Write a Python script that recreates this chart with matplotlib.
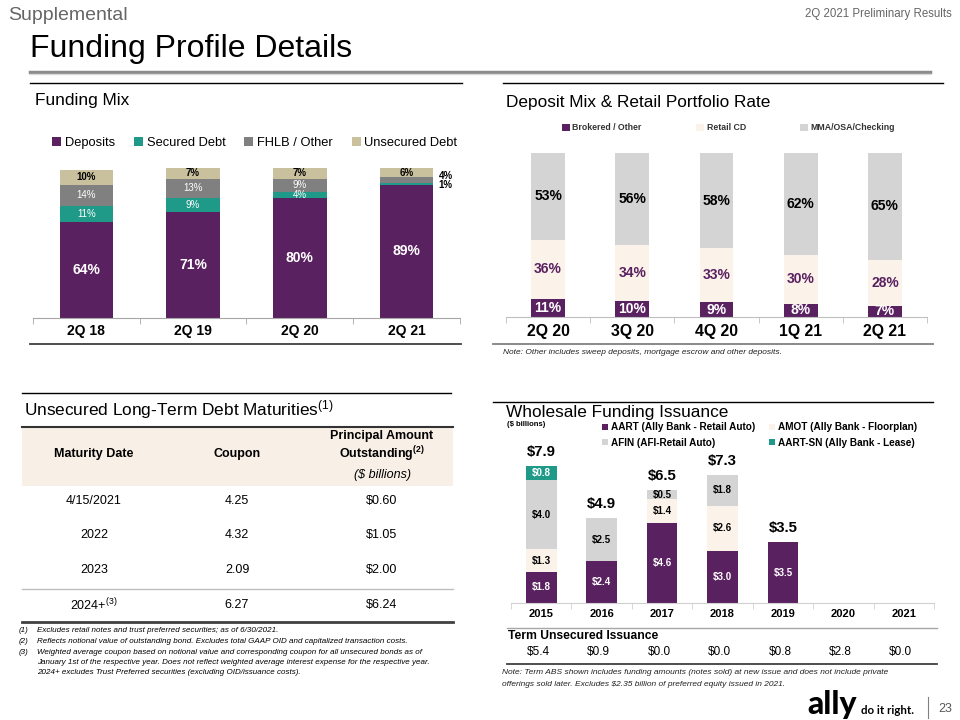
import matplotlib
matplotlib.use("Agg")
import matplotlib.pyplot as plt
from matplotlib.patches import Rectangle
from matplotlib.transforms import blended_transform_factory

plt.rcParams["font.family"] = ["Liberation Sans", "DejaVu Sans"]
plt.rcParams["mathtext.fontset"] = "custom"
plt.rcParams["mathtext.rm"] = "Liberation Sans"
plt.rcParams["mathtext.it"] = "Liberation Sans:italic"
plt.rcParams["mathtext.bf"] = "Liberation Sans:bold"

# funding mix (% of total funding)
mix_quarters = ["2Q 18", "2Q 19", "2Q 20", "2Q 21"]
mix_deposits = [64, 71, 80, 89]
mix_secured = [11, 9, 4, 1]
mix_fhlb = [14, 13, 9, 4]
mix_unsecured = [10, 7, 7, 6]

# deposit mix (% of deposits)
dep_quarters = ["2Q 20", "3Q 20", "4Q 20", "1Q 21", "2Q 21"]
dep_brokered = [11, 10, 9, 8, 7]
dep_retail_cd = [36, 34, 33, 30, 28]
dep_mma = [53, 56, 58, 62, 65]

# unsecured long-term debt maturities
debt_maturity = ["4/15/2021", "2022", "2023", "2024+$^{(3)}$"]
debt_coupon = ["4.25", "4.32", "2.09", "6.27"]
debt_principal = [0.60, 1.05, 2.00, 6.24]

# wholesale funding issuance ($ billions)
abs_years = ["2015", "2016", "2017", "2018", "2019", "2020", "2021"]
abs_aart = [1.8, 2.4, 4.6, 3.0, 3.5, 0, 0]
abs_amot = [1.3, 0, 1.4, 2.6, 0, 0, 0]
abs_afin = [4.0, 2.5, 0.5, 1.8, 0, 0, 0]
abs_aart_sn = [0.8, 0, 0, 0, 0, 0, 0]
abs_totals = [7.9, 4.9, 6.5, 7.3, 3.5, None, None]
term_unsecured = [5.4, 0.9, 0.0, 0.0, 0.8, 2.8, 0.0]

PURPLE = "#5A2160"
TEAL = "#1F9A89"
GRAY = "#808080"
TAN = "#C9C09D"
CREAM = "#FBF3EA"
LIGHT = "#D4D4D4"

W, H = 960, 720


def rect(x0, y0, x1, y1):
    return [x0 / W, 1 - y1 / H, (x1 - x0) / W, (y1 - y0) / H]


def fpos(x, y):
    return (x / W, 1 - y / H)


def style_cat_axis(ax, n, fontsize, pad, spine_color="#BFBFBF"):
    for s in ["top", "right", "left"]:
        ax.spines[s].set_visible(False)
    ax.spines["bottom"].set_color(spine_color)
    ax.set_yticks([])
    ax.set_xlim(-0.5, n - 0.5)
    ax.set_xticks(range(n))
    ax.set_xticks([i - 0.5 for i in range(n + 1)], minor=True)
    ax.tick_params(axis="x", which="major", length=0, pad=pad)
    ax.tick_params(axis="x", which="minor", length=4, color=spine_color)
    for lab in ax.get_xticklabels():
        lab.set_fontweight("bold")
        lab.set_fontsize(fontsize)


fig = plt.figure(figsize=(9.6, 7.2), dpi=100)

# page canvas in pixel coordinates
bg = fig.add_axes([0, 0, 1, 1], zorder=0)
bg.set_xlim(0, W)
bg.set_ylim(H, 0)
bg.axis("off")

bg.text(8, 15, "Supplemental", fontsize=14, color="#666666", va="center")
bg.text(952, 14, "2Q 2021 Preliminary Results", fontsize=8.3, color="#666666",
        va="center", ha="right")
bg.text(30, 49, "Funding Profile Details", fontsize=23, va="center")
bg.plot([30, 930], [72, 72], color="#8C8C8C", lw=2.5)
bg.plot([30, 930], [74, 74], color="#D9D9D9", lw=1)

bg.plot([30, 462], [83, 83], color="black", lw=1)
bg.plot([503, 943], [83, 83], color="black", lw=1)
bg.text(35, 101, "Funding Mix", fontsize=12.4, va="center")
bg.text(506, 103, "Deposit Mix & Retail Portfolio Rate", fontsize=12.4, va="center")
bg.plot([30, 461], [344, 344], color="#404040", lw=1.3)
bg.plot([493, 933], [344, 344], color="#808080", lw=1.3)
bg.text(503, 353, "Note: Other includes sweep deposits, mortgage escrow and other deposits.",
        fontsize=6, style="italic", va="center", color="#222222")

# ---- Funding Mix ----
ax1 = fig.add_axes(rect(33, 168, 460, 318), zorder=1)
ax1.set_facecolor("none")
x1 = list(range(len(mix_quarters)))
series1 = [("Deposits", mix_deposits, PURPLE, "white", 10),
           ("Secured Debt", mix_secured, TEAL, "white", 7),
           ("FHLB / Other", mix_fhlb, GRAY, "white", 7),
           ("Unsecured Debt", mix_unsecured, TAN, "black", 7)]
bottom = [0] * len(x1)
for k, (name, vals, col, tcol, fs) in enumerate(series1):
    ax1.bar(x1, vals, 0.5, bottom=bottom, color=col, label=name)
    for i, v in enumerate(vals):
        yc = bottom[i] + v / 2
        if i == 3 and k in (1, 2):
            dy = 3 if k == 2 else -1
            ax1.annotate(f"{v}%", (i + 0.25, yc), xytext=(4, dy), textcoords="offset points",
                         ha="left", va="center", fontsize=7, fontweight="bold")
        else:
            w = "bold" if k in (0, 3) else "normal"
            ax1.text(i, yc, f"{v}%", ha="center", va="center", color=tcol,
                     fontsize=fs, fontweight=w)
    bottom = [b + v for b, v in zip(bottom, vals)]
ax1.set_ylim(0, 100)
ax1.set_xticks(x1)
ax1.set_xticklabels(mix_quarters)
style_cat_axis(ax1, len(x1), 10, 4.5, spine_color="#A6A6A6")
ax1.legend(loc="center left", bbox_to_anchor=fpos(52, 143), bbox_transform=fig.transFigure,
           ncol=4, frameon=False, fontsize=9.3, handlelength=0.7, handleheight=0.7,
           handletextpad=0.3, columnspacing=1.45, borderpad=0, borderaxespad=0)

# ---- Deposit Mix ----
ax2 = fig.add_axes(rect(506, 153, 927, 317), zorder=1)
ax2.set_facecolor("none")
x2 = list(range(len(dep_quarters)))
series2 = [("Brokered / Other", dep_brokered, PURPLE, "white"),
           ("Retail CD", dep_retail_cd, CREAM, PURPLE),
           ("MMA/OSA/Checking", dep_mma, LIGHT, "black")]
bottom = [0] * len(x2)
for name, vals, col, tcol in series2:
    ax2.bar(x2, vals, 0.4, bottom=bottom, color=col, label=name)
    for i, v in enumerate(vals):
        ax2.text(i, bottom[i] + v / 2, f"{v}%", ha="center", va="center", color=tcol,
                 fontsize=10, fontweight="bold")
    bottom = [b + v for b, v in zip(bottom, vals)]
ax2.set_ylim(0, 100)
ax2.set_xticks(x2)
ax2.set_xticklabels(dep_quarters)
style_cat_axis(ax2, len(x2), 11.4, 5.2)
leg2 = ax2.legend(loc="center left", bbox_to_anchor=fpos(562, 128),
                  bbox_transform=fig.transFigure, ncol=3, frameon=False, fontsize=6.3,
                  handlelength=0.9, handleheight=0.9, handletextpad=0.3, columnspacing=6.2,
                  borderpad=0, borderaxespad=0)
for t in leg2.get_texts():
    t.set_fontweight("bold")
    t.set_color("#333333")

# ---- Unsecured Long-Term Debt Maturities table ----
bg.plot([22, 451], [393, 393], color="black", lw=1)
bg.text(24, 410, "Unsecured Long-Term Debt Maturities$^{(1)}$", fontsize=12.4, va="center")
bg.add_patch(Rectangle((22, 427), 431, 59, color="#F8EFE6", lw=0))
bg.plot([22, 453], [427, 427], color="#333333", lw=1.5)
cols = [94, 237, 382]
bg.text(cols[0], 454, "Maturity Date", fontsize=9, fontweight="bold", ha="center", va="center")
bg.text(cols[1], 454, "Coupon", fontsize=9, fontweight="bold", ha="center", va="center")
bg.text(cols[2], 436, "Principal Amount", fontsize=9, fontweight="bold", ha="center", va="center")
bg.text(cols[2], 454, r"Outstanding$^{\mathbf{(2)}}$", fontsize=9, fontweight="bold",
        ha="center", va="center")
bg.text(cols[2], 475, r"(\$ billions)", fontsize=9, style="italic", ha="center", va="center")
row_y = [501, 535, 570, 605]
for y, d, c, p in zip(row_y, debt_maturity, debt_coupon, debt_principal):
    bg.text(cols[0], y, d, fontsize=9, ha="center", va="center")
    bg.text(cols[1], y, c, fontsize=9, ha="center", va="center")
    bg.text(cols[2], y, f"${p:.2f}", fontsize=9, ha="center", va="center")
bg.plot([22, 453], [589, 589], color="#BFBFBF", lw=1)
bg.plot([22, 453], [622, 622], color="#404040", lw=2)

notes = [("(1)", "Excludes retail notes and trust preferred securities; as of 6/30/2021."),
         ("(2)", "Reflects notional value of outstanding bond. Excludes total GAAP OID and capitalized transaction costs."),
         ("(3)", "Weighted average coupon based on notional value and corresponding coupon for all unsecured bonds as of"),
         ("", "January 1st of the respective year. Does not reflect weighted average interest expense for the respective year."),
         ("", "2024+ excludes Trust Preferred securities (excluding OID/issuance costs).")]
for j, (num, txt) in enumerate(notes):
    y = 631 + j * 10.5
    bg.text(19, y, num, fontsize=5.8, style="italic", va="center")
    bg.text(37, y, txt, fontsize=5.8, style="italic", va="center")

# ---- Wholesale Funding Issuance ----
bg.plot([493, 933], [402, 402], color="black", lw=1)
bg.text(506, 413, "Wholesale Funding Issuance", fontsize=12.4, va="center")
bg.text(507, 425, r"(\$ billions)", fontsize=5.5, fontweight="bold", va="center")

ax3 = fig.add_axes(rect(511, 447, 934, 603), zorder=1)
ax3.set_facecolor("none")
x3 = list(range(len(abs_years)))
series3 = [("AART (Ally Bank - Retail Auto)", abs_aart, PURPLE, "white"),
           ("AMOT (Ally Bank - Floorplan)", abs_amot, CREAM, "black"),
           ("AFIN (AFI-Retail Auto)", abs_afin, LIGHT, "black"),
           ("AART-SN (Ally Bank - Lease)", abs_aart_sn, TEAL, "white")]
bottom = [0] * len(x3)
handles = {}
for name, vals, col, tcol in series3:
    bars = ax3.bar(x3, vals, 0.51, bottom=bottom, color=col, label=name)
    handles[name] = bars
    for i, v in enumerate(vals):
        if v > 0:
            ax3.text(i, bottom[i] + v / 2, f"${v:.1f}", ha="center", va="center",
                     color=tcol, fontsize=7, fontweight="bold")
    bottom = [b + v for b, v in zip(bottom, vals)]
for i, t in enumerate(abs_totals):
    if t is not None:
        ax3.annotate(f"${t:.1f}", (i, bottom[i]), xytext=(0, 10), textcoords="offset points",
                     ha="center", va="center", fontsize=10.7, fontweight="bold")
ax3.set_ylim(0, 9)
ax3.set_xticks(x3)
ax3.set_xticklabels(abs_years)
style_cat_axis(ax3, len(x3), 8, 4.5, spine_color="#D0D0D0")
order = [0, 2, 1, 3]
leg3 = ax3.legend([handles[series3[k][0]] for k in order], [series3[k][0] for k in order],
                  loc="center left", bbox_to_anchor=fpos(602, 435),
                  bbox_transform=fig.transFigure, ncol=2, frameon=False, fontsize=7.2,
                  handlelength=0.6, handleheight=0.6, handletextpad=0.3, columnspacing=1.4,
                  labelspacing=0.55, borderpad=0, borderaxespad=0)
for t in leg3.get_texts():
    t.set_fontweight("bold")

bg.plot([507, 937], [628, 628], color="#A6A6A6", lw=1)
bg.text(508, 636, "Term Unsecured Issuance", fontsize=8.7, fontweight="bold", va="center")
tr = blended_transform_factory(ax3.transData, bg.transData)
for i, v in enumerate(term_unsecured):
    ax3.text(i - 0.05, 652, f"${v:.1f}", transform=tr, ha="center", va="center", fontsize=8.5)
bg.plot([507, 937], [664, 664], color="#404040", lw=1.3)
bg.text(502, 673, "Note: Term ABS shown includes funding amounts (notes sold) at new issue and does not include private",
        fontsize=6, style="italic", va="center", color="#222222")
bg.text(502, 684, "offerings sold later. Excludes $2.35 billion of preferred equity issued in 2021.",
        fontsize=6, style="italic", va="center", color="#222222")

# ---- footer ----
bg.text(807, 714, "ally", fontsize=23, family=["Lato", "DejaVu Sans"], fontweight="black",
        va="baseline")
bg.text(861, 714, "do it right.", fontsize=8.3, family=["Lato", "DejaVu Sans"],
        fontweight="bold", va="baseline")
bg.plot([928, 928], [697, 718], color="#808080", lw=0.8)
bg.text(945, 709, "23", fontsize=9, color="#595959", ha="center", va="center")

fig.savefig("out.png", dpi=100)
